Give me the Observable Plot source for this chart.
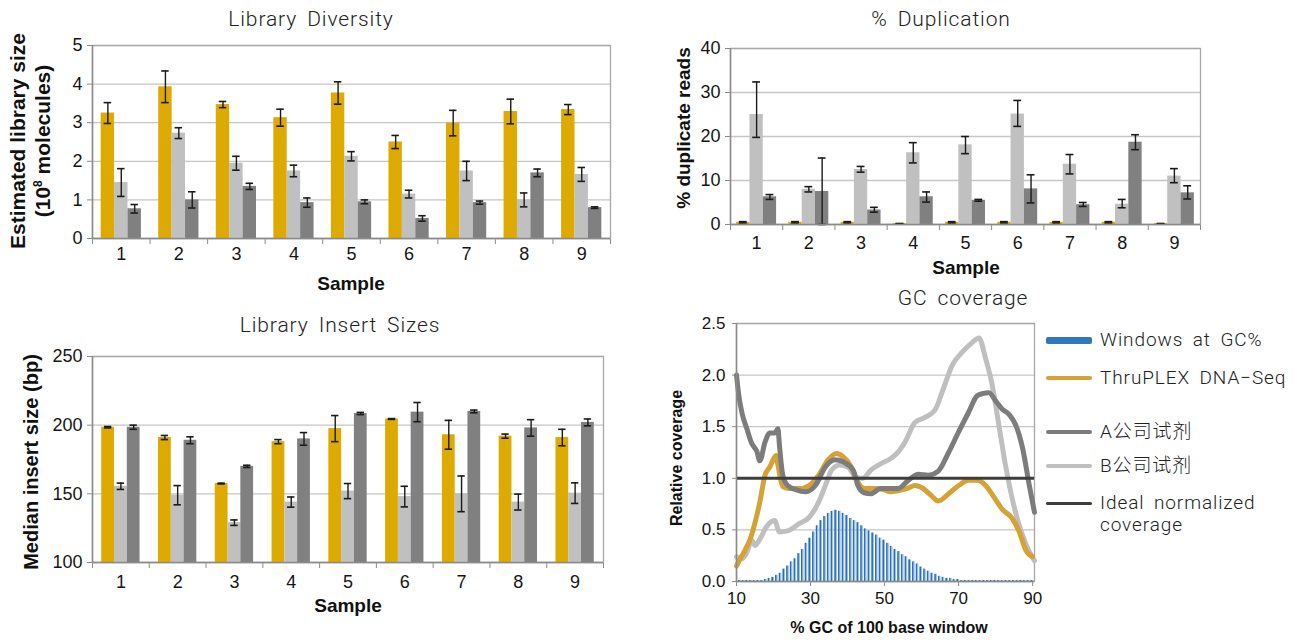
<!DOCTYPE html>
<html><head><meta charset="utf-8">
<script src="https://cdn.jsdelivr.net/npm/d3@7"></script>
<script src="https://cdn.jsdelivr.net/npm/@observablehq/plot@0.6"></script>
<style>
body{margin:0;background:#fff;width:1297px;height:641px;position:relative;overflow:hidden;font-family:"Liberation Sans",Arial,sans-serif;color:#1a1a1a;}
.abs{position:absolute;}
.c{transform:translate(-50%,-50%);white-space:nowrap;}
.title{font-family:Roboto,"Liberation Sans",sans-serif;font-weight:300;font-size:21px;color:#222;letter-spacing:0.9px;word-spacing:4px;}
.axt{font-weight:bold;font-size:19px;color:#111;white-space:nowrap;}
.rot{transform:translate(-50%,-50%) rotate(-90deg);text-align:center;line-height:1.2;}
.leg{font-family:Roboto,"Liberation Sans","Noto Sans CJK SC",sans-serif;font-weight:300;font-size:19px;color:#222;letter-spacing:0.9px;word-spacing:4px;white-space:nowrap;line-height:22px;}
.sw{position:absolute;left:1046px;width:46px;border-radius:2px;}
</style></head>
<body>
<script>
// ---------- data ----------
const samples = ["1","2","3","4","5","6","7","8","9"];
const barColors = ["#dcaa00", "#c0c0c0", "#808080"]; // ThruPLEX, B (light), A (dark)

// Library Diversity (10^8 molecules)
const divThru    = [3.25, 3.93, 3.47, 3.13, 3.77, 2.50, 2.99, 3.29, 3.34];
const divThruErr = [0.27, 0.41, 0.08, 0.22, 0.29, 0.17, 0.33, 0.32, 0.13];
const divB       = [1.45, 2.73, 1.95, 1.75, 2.13, 1.15, 1.75, 1.00, 1.66];
const divBErr    = [0.36, 0.14, 0.18, 0.15, 0.12, 0.10, 0.25, 0.18, 0.18];
const divA       = [0.77, 1.00, 1.35, 0.93, 0.95, 0.52, 0.93, 1.70, 0.80];
const divAErr    = [0.11, 0.21, 0.08, 0.12, 0.05, 0.07, 0.04, 0.10, 0.02];

// % Duplication
const dupThru   = [0.5, 0.5, 0.5, 0.2, 0.5, 0.5, 0.5, 0.5, 0.2];
const dupThruLo = [0.35, 0.35, 0.35, 0.2, 0.35, 0.35, 0.35, 0.35, 0.2];
const dupThruHi = [0.65, 0.65, 0.65, 0.2, 0.65, 0.65, 0.65, 0.65, 0.2];
const dupB   = [25.0, 8.0, 12.5, 16.3, 18.1, 25.1, 13.7, 4.6, 11.0];
const dupBLo = [19.8, 7.4, 11.9, 14.0, 16.1, 22.3, 11.5, 3.8, 9.5];
const dupBHi = [32.4, 8.6, 13.2, 18.6, 20.0, 28.2, 15.9, 5.7, 12.7];
const dupA   = [6.3, 7.5, 3.3, 6.3, 5.5, 8.1, 4.5, 18.7, 7.2];
const dupALo = [5.7, 0.0, 2.8, 5.1, 5.3, 4.9, 4.1, 17.0, 5.8];
const dupAHi = [6.8, 15.1, 3.9, 7.4, 5.7, 11.3, 5.0, 20.4, 8.8];

// Library Insert Sizes (bp)
const insThru    = [198.5, 191, 157.5, 188, 197.5, 204.5, 193, 192, 191];
const insThruErr = [0.5, 1.5, 0.3, 1.5, 9.5, 0.3, 10.5, 1.5, 6];
const insB       = [155.5, 149, 129, 144, 152, 148, 150, 144, 150.5];
const insBErr    = [2.3, 7, 2, 3.7, 5.5, 7.5, 13, 5.8, 7.5];
const insA       = [198.5, 189, 170, 190, 208.5, 209.5, 210, 198, 202];
const insAErr    = [1.5, 2.5, 0.8, 4.6, 0.8, 7, 1, 6, 2.5];

// GC coverage
const gcStart = 10;
const gcWindows = [0.01,0.01,0.01,0.01,0.01,0.01,0.01,0.01,
  0.02,0.03,0.04,0.06,0.08,0.12,0.15,0.19,0.22,0.27,0.31,0.37,0.42,0.48,0.54,0.59,0.63,0.66,0.68,0.69,
  0.68,0.66,0.64,0.61,0.59,0.57,0.54,0.51,0.49,0.47,0.45,0.42,0.40,0.37,0.34,0.31,0.29,0.26,0.24,0.21,
  0.19,0.17,0.14,0.12,0.10,0.08,0.07,0.05,0.04,0.03,0.03,0.02,0.02,
  0.01,0.01,0.01,0.01,0.01,0.01,0.01,0.01,0.01,0.01,0.01,0.01,0.01,0.01,0.01,0.01,0.01,0.01,0.01,0.01];
const thruX = [10, 11, 12.4, 13.7, 15, 16.3, 17.7, 19, 20.7, 21.2, 22.5, 24.3, 26.9, 29.6, 32.2, 34.8, 37, 38.8, 41, 42.8, 44.5, 47.2, 49.8, 51.6, 53.6, 56, 58.2, 60, 62.7, 64.5, 67.3, 70, 72.7, 75, 77.3, 79.5, 81.8, 84.5, 86.4, 88.2, 90];
const thruY = [0.15, 0.22, 0.31, 0.41, 0.57, 0.77, 1.03, 1.11, 1.22, 1.13, 0.92, 0.9, 0.9, 0.93, 1.03, 1.18, 1.24, 1.21, 1.11, 0.96, 0.9, 0.9, 0.89, 0.87, 0.88, 0.9, 0.93, 0.91, 0.83, 0.78, 0.85, 0.93, 0.98, 0.98, 0.93, 0.82, 0.70, 0.61, 0.48, 0.30, 0.24];
const aX = [10, 10.6, 11.5, 12.8, 14.1, 15.5, 16.3, 17.7, 19, 20.3, 21.2, 21.6, 22.5, 23.8, 26, 28.7, 31.3, 34, 36.6, 38.8, 41.5, 42.8, 44.5, 46.3, 48.9, 51.6, 53.6, 56.4, 59.1, 61.8, 64.5, 67.3, 70, 72.7, 75, 76.4, 78.2, 80, 81.8, 83.6, 85.5, 87.3, 89.1, 90.5];
const aY = [2.0, 1.81, 1.63, 1.48, 1.34, 1.26, 1.17, 1.35, 1.44, 1.44, 1.48, 1.32, 1.03, 0.93, 0.89, 0.87, 0.93, 1.11, 1.18, 1.16, 1.08, 0.93, 0.86, 0.85, 0.9, 0.9, 0.9, 0.98, 1.04, 1.03, 1.07, 1.25, 1.45, 1.64, 1.80, 1.82, 1.83, 1.75, 1.67, 1.62, 1.51, 1.29, 0.93, 0.67];
const bX = [10, 11.5, 12.8, 14.1, 15, 16.3, 18.1, 20.3, 21.6, 23.8, 26.9, 29.6, 32.2, 34, 35.7, 37.9, 40.1, 42.3, 44.1, 46.3, 48.9, 51.6, 53.3, 55.5, 58.2, 60.9, 63.6, 65.9, 68.2, 70.9, 73.2, 75.5, 77.3, 79.1, 80.9, 82.7, 84.5, 86.4, 88.2, 90.5];
const bY = [0.24, 0.22, 0.28, 0.4, 0.35, 0.41, 0.53, 0.59, 0.48, 0.49, 0.56, 0.62, 0.77, 0.93, 1.08, 1.13, 1.11, 1.01, 1.0, 1.08, 1.14, 1.19, 1.24, 1.35, 1.54, 1.59, 1.66, 1.87, 2.09, 2.22, 2.30, 2.36, 2.16, 1.90, 1.51, 1.12, 0.80, 0.54, 0.36, 0.2];
const idealY = [1.0];

// ---------- helpers ----------
const FONT = "'Liberation Sans', Arial, sans-serif";
function place(node, left, top) {
  const d = document.createElement("div");
  d.className = "abs"; d.style.left = left + "px"; d.style.top = top + "px";
  d.appendChild(node); document.body.appendChild(d);
}
function label(cls, text, x, y, size) {
  const d = document.createElement("div");
  d.className = "abs " + cls; d.style.left = x + "px"; d.style.top = y + "px";
  if (size) d.style.fontSize = size + "px";
  d.innerHTML = text; document.body.appendChild(d);
}
function rowsOf(series, bw) {
  const rows = [];
  samples.forEach((s, i) => series.forEach((ser, k) => {
    const x1 = i + 0.5 + (k - 1.5) * bw;
    rows.push({x1, x2: x1 + bw, xm: x1 + bw / 2, v: ser.v[i], lo: ser.lo[i], hi: ser.hi[i], color: barColors[k]});
  }));
  return rows;
}
function barPanel(o) {
  const rows = rowsOf(o.series, o.bw);
  const p = Plot.plot({
    width: o.width, height: o.height,
    marginLeft: o.ml, marginRight: o.mr, marginTop: o.mt, marginBottom: o.mb,
    style: {fontSize: "18px", fontFamily: FONT, color: "#151515", background: "transparent", overflow: "visible"},
    x: {domain: [0, samples.length], ticks: d3.range(0, samples.length + 1), tickFormat: () => "", tickSize: 6, label: null},
    y: {domain: o.yDomain, ticks: o.yTicks, tickFormat: d => String(d), tickSize: 5, tickPadding: 5, label: null},
    marks: [
      Plot.ruleY(o.yTicks, {stroke: "#c6c6c6", strokeWidth: 1.3}),
      Plot.frame({stroke: "#a8a8a8", strokeWidth: 1.3}),
      Plot.rectY(rows, {x1: "x1", x2: "x2", y1: () => o.yDomain[0], y2: "v", fill: "color"}),
      Plot.ruleX(rows, {x: "xm", y1: "lo", y2: "hi", stroke: "#1a1a1a", strokeWidth: 1.4}),
      Plot.ruleY(rows, {y: "lo", x1: d => d.xm - o.cap, x2: d => d.xm + o.cap, stroke: "#1a1a1a", strokeWidth: 1.6}),
      Plot.ruleY(rows, {y: "hi", x1: d => d.xm - o.cap, x2: d => d.xm + o.cap, stroke: "#1a1a1a", strokeWidth: 1.6}),
      Plot.ruleX([0], {stroke: "#8a8a8a", strokeWidth: 1.5}),
      Plot.ruleY([o.yDomain[0]], {stroke: "#8a8a8a", strokeWidth: 1.5}),
      Plot.text(samples, {x: (d, i) => i + 0.5, text: d => d, frameAnchor: "bottom", dy: o.labelDy, fontSize: 18})
    ]
  });
  d3.select(p).selectAll('g[aria-label="x-axis tick"] path, g[aria-label="y-axis tick"] path').attr("stroke", "#8a8a8a");
  place(p, o.left, o.top);
}

// ---------- Panel 1: Library Diversity ----------
barPanel({
  left: 0, top: 30, width: 620, height: 245, ml: 92, mr: 10, mt: 15, mb: 37, labelDy: 21, bw: 0.233, cap: 0.065,
  yDomain: [0, 5], yTicks: [0, 1, 2, 3, 4, 5],
  series: [
    {v: divThru, lo: divThru.map((v, i) => v - divThruErr[i]), hi: divThru.map((v, i) => v + divThruErr[i])},
    {v: divB, lo: divB.map((v, i) => v - divBErr[i]), hi: divB.map((v, i) => v + divBErr[i])},
    {v: divA, lo: divA.map((v, i) => v - divAErr[i]), hi: divA.map((v, i) => v + divAErr[i])}
  ]
});
label("title c", "Library  Diversity", 311, 19);
label("axt c", "Sample", 351, 284);
label("axt rot", "Estimated library size<br>(10<sup style='font-size:12px'>8</sup> molecules)", 30, 141, 21);

// ---------- Panel 2: % Duplication ----------
barPanel({
  left: 640, top: 30, width: 570, height: 230, ml: 90, mr: 10, mt: 18, mb: 36, labelDy: 24, bw: 0.255, cap: 0.075,
  yDomain: [0, 40], yTicks: [0, 10, 20, 30, 40],
  series: [
    {v: dupThru, lo: dupThruLo, hi: dupThruHi},
    {v: dupB, lo: dupBLo, hi: dupBHi},
    {v: dupA, lo: dupALo, hi: dupAHi}
  ]
});
label("title c", "%  Duplication", 941, 19);
label("axt c", "Sample", 966, 268);
label("axt rot", "% duplicate reads", 684, 128, 19);

// ---------- Panel 3: Library Insert Sizes ----------
barPanel({
  left: 0, top: 340, width: 613, height: 260, ml: 92, mr: 10, mt: 16, mb: 38, labelDy: 25, bw: 0.225, cap: 0.065,
  yDomain: [100, 250], yTicks: [100, 150, 200, 250],
  series: [
    {v: insThru, lo: insThru.map((v, i) => v - insThruErr[i]), hi: insThru.map((v, i) => v + insThruErr[i])},
    {v: insB, lo: insB.map((v, i) => v - insBErr[i]), hi: insB.map((v, i) => v + insBErr[i])},
    {v: insA, lo: insA.map((v, i) => v - insAErr[i]), hi: insA.map((v, i) => v + insAErr[i])}
  ]
});
label("title c", "Library  Insert  Sizes", 340, 325);
label("axt c", "Sample", 348, 606);
label("axt rot", "Median insert size (bp)", 31, 462, 20);

// ---------- Panel 4: GC coverage ----------
const hist = gcWindows.map((h, i) => ({gc: gcStart + i, h}));
const toPts = (xs, ys) => xs.map((x, i) => ({x, y: ys[i]}));
const gcTicksY = [0, 0.5, 1.0, 1.5, 2.0, 2.5];
const gcPlot = Plot.plot({
  width: 384, height: 315, marginLeft: 76, marginRight: 10, marginTop: 23, marginBottom: 34,
  style: {fontSize: "17px", fontFamily: FONT, color: "#151515", background: "transparent", overflow: "visible"},
  x: {domain: [10, 90.5], ticks: [10, 30, 50, 70, 90], tickSize: 5, tickPadding: 5, label: null},
  y: {domain: [0, 2.5], ticks: gcTicksY, tickFormat: d3.format(".1f"), tickSize: 4, tickPadding: 7, label: null},
  marks: [
    Plot.ruleY(gcTicksY, {stroke: "#c6c6c6", strokeWidth: 1.3}),
    Plot.frame({stroke: "#a8a8a8", strokeWidth: 1.3}),
    Plot.rectY(hist, {x1: d => d.gc - 0.45, x2: d => d.gc, y: "h", fill: "#2c70b3", clip: true}),
    Plot.rectY(hist, {x1: d => d.gc, x2: d => d.gc + 0.25, y: "h", fill: "#8fbbe3", clip: true}),
    Plot.line(toPts(bX, bY), {x: "x", y: "y", stroke: "#bfbfbf", strokeWidth: 5, curve: "monotone-x", strokeLinejoin: "round"}),
    Plot.line(toPts(thruX, thruY), {x: "x", y: "y", stroke: "#d4a235", strokeWidth: 5, curve: "monotone-x", strokeLinejoin: "round"}),
    Plot.line(toPts(aX, aY), {x: "x", y: "y", stroke: "#7c7c7c", strokeWidth: 5, curve: "monotone-x", strokeLinejoin: "round"}),
    Plot.ruleY(idealY, {stroke: "#3d3d3d", strokeWidth: 3}),
    Plot.ruleX([10], {stroke: "#8a8a8a", strokeWidth: 1.5}),
    Plot.ruleY([0], {stroke: "#8a8a8a", strokeWidth: 1.5})
  ]
});
d3.select(gcPlot).selectAll('g[aria-label="x-axis tick"] path, g[aria-label="y-axis tick"] path').attr("stroke", "#8a8a8a");
place(gcPlot, 660, 300);
label("title c", "GC  coverage", 963, 298);
label("axt c", "% GC of 100 base window", 889, 628, 16);
label("axt rot", "Relative coverage", 677, 458, 16);

// legend
const legend = [
  {text: "Windows  at  GC%", color: "#2e78bb", h: 7, y: 340},
  {text: "ThruPLEX  DNA−Seq", color: "#d4a235", h: 4, y: 378},
  {text: "A公司试剂", color: "#7c7c7c", h: 4, y: 432},
  {text: "B公司试剂", color: "#bfbfbf", h: 4, y: 466},
  {text: "Ideal  normalized<br>coverage", color: "#3d3d3d", h: 3, y: 503}
];
legend.forEach(l => {
  const s = document.createElement("div");
  s.className = "sw"; s.style.top = (l.y - l.h / 2) + "px"; s.style.height = l.h + "px"; s.style.background = l.color;
  document.body.appendChild(s);
  const t = document.createElement("div");
  t.className = "abs leg"; t.style.left = "1100px"; t.style.top = (l.y - 11) + "px"; t.innerHTML = l.text;
  document.body.appendChild(t);
});
</script>
</body></html>
